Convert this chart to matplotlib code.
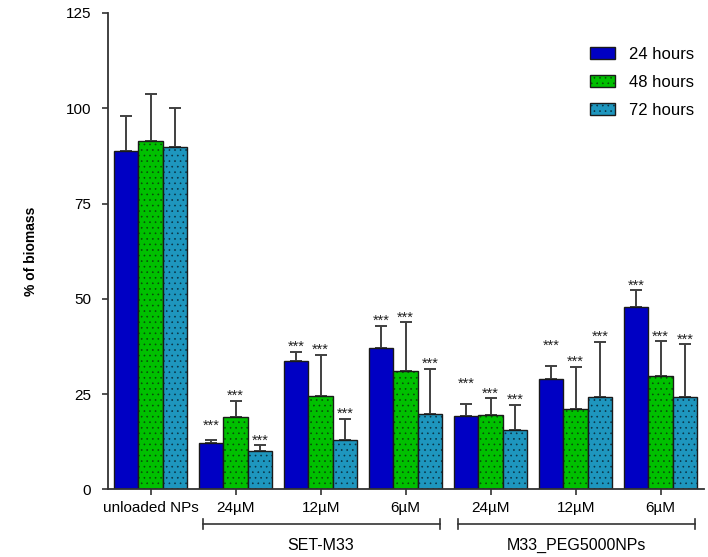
import matplotlib
matplotlib.use("Agg")
import matplotlib.pyplot as plt
import matplotlib.transforms as mtransforms
import numpy as np

plt.rcParams['font.family'] = ['Liberation Sans', 'DejaVu Sans']
plt.rcParams['hatch.linewidth'] = 0.45

categories = ["unloaded NPs", "24µM", "12µM", "6µM", "24µM", "12µM", "6µM"]
series = ["24 hours", "48 hours", "72 hours"]
vals_24 = [88.9, 12.2, 33.8, 37.2, 19.4, 29.0, 47.8]
vals_48 = [91.5, 18.9, 24.4, 31.1, 19.5, 21.1, 29.8]
vals_72 = [89.8, 10.1, 13.0, 19.7, 15.5, 24.3, 24.2]
err_24 = [9.1, 0.9, 2.3, 5.8, 3.0, 3.3, 4.4]
err_48 = [12.3, 4.4, 10.9, 12.8, 4.4, 11.1, 9.1]
err_72 = [10.2, 1.5, 5.6, 12.0, 6.7, 14.5, 13.9]
signif_24 = ["", "***", "***", "***", "***", "***", "***"]
signif_48 = ["", "***", "***", "***", "***", "***", "***"]
signif_72 = ["", "***", "***", "***", "***", "***", "***"]
groups = ["SET-M33", "M33_PEG5000NPs"]
group_members = [[1, 2, 3], [4, 5, 6]]
yticks = [0, 25, 50, 75, 100, 125]

# extra lift (points) of the significance stars above some error bars
star_lift_24 = [0, 6.5, 0, 0, 11.5, 11.5, 0]
star_lift_48 = [0, 0, 0, 0, 0, 0, 0]
star_lift_72 = [0, 0, 0, 0, 0, 0, 0]

colors = ["#0000C4", "#00C000", "#1E96BE"]
hatches = [None, "...", "..."]
hatch_colors = ["#0000C4", "#0A4A0A", "#0B3344"]

fig = plt.figure(figsize=(7.08, 5.57), dpi=100)
ax = fig.add_axes([0.1525, 0.1212, 0.9944 - 0.1525, 0.9767 - 0.1212])

x = np.arange(len(categories))
w = 0.288
allvals = [vals_24, vals_48, vals_72]
allerr = [err_24, err_48, err_72]
allsig = [signif_24, signif_48, signif_72]
alllift = [star_lift_24, star_lift_48, star_lift_72]
handles = []
for i in range(3):
    xs = x + (i - 1) * w
    b = ax.bar(xs, allvals[i], width=w, color=colors[i], edgecolor="#1a1a1a",
               linewidth=1.0, hatch=hatches[i], label=series[i], zorder=2)
    for patch in b:
        if hatches[i]:
            patch._hatch_color = matplotlib.colors.to_rgba(hatch_colors[i])
    handles.append(b)
    ax.errorbar(xs, allvals[i], yerr=[np.zeros(len(x)), allerr[i]], fmt="none",
                ecolor="#404040", elinewidth=1.4, capsize=4.5, capthick=1.4, zorder=1)
    for xi, v, e, s, lift in zip(xs, allvals[i], allerr[i], allsig[i], alllift[i]):
        if s:
            ax.annotate(s, (xi, v + e), xytext=(0, 0.6 + lift), textcoords="offset points",
                        ha="center", va="baseline", fontsize=10.5, color="#222222")

ax.set_xlim(-0.503, 6.51)
ax.set_ylim(0, 125)
ax.set_yticks(yticks)
ax.set_xticks(x)
ax.set_xticklabels(categories, fontsize=11)
ax.tick_params(axis="y", labelsize=11, length=4, width=1.2, color="#333333", pad=8)
ax.tick_params(axis="x", length=4, width=1.2, color="#333333", pad=4)
for sp in ["top", "right"]:
    ax.spines[sp].set_visible(False)
for sp in ["left", "bottom"]:
    ax.spines[sp].set_linewidth(1.3)
    ax.spines[sp].set_color("#333333")

ax.set_ylabel("% of biomass", fontsize=10, fontweight="bold")
ax.yaxis.set_label_coords(-0.118, 0.5)

trans = mtransforms.blended_transform_factory(ax.transData, ax.transAxes)
for name, mem in zip(groups, group_members):
    x0 = mem[0] - 0.39
    x1 = mem[-1] + 0.40
    yb = -0.0724
    ax.plot([x0, x1], [yb, yb], transform=trans, color="#333333", lw=1.2, clip_on=False)
    for xe in (x0, x1):
        ax.plot([xe, xe], [yb - 0.0115, yb + 0.0115], transform=trans, color="#333333",
                lw=1.2, clip_on=False)
    ax.text((x0 + x1) / 2, -0.1165, name, transform=trans, ha="center", va="center",
            fontsize=11.5)

leg = ax.legend(handles=handles, loc="upper left", bbox_to_anchor=(590 / 708, 1 - 47 / 557),
                bbox_transform=fig.transFigure, frameon=False, fontsize=12,
                handlelength=1.5, handleheight=0.7, handletextpad=0.85,
                labelspacing=0.78, borderpad=0, borderaxespad=0)

fig.savefig("out.png", dpi=100)
